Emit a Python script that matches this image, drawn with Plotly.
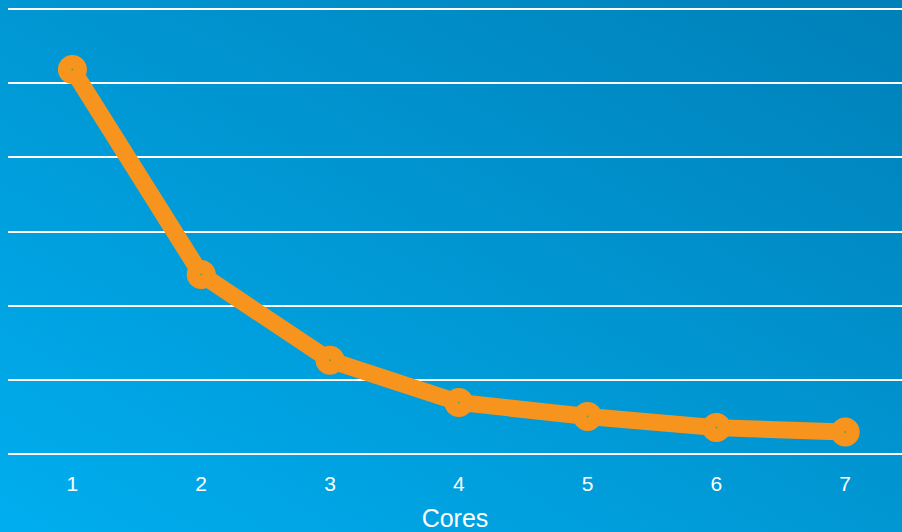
import base64
import plotly.graph_objects as go

# Run time per core count (arbitrary units; gridlines every 1 unit)
cores = [1, 2, 3, 4, 5, 6, 7]
run_time = [5.19, 2.42, 1.26, 0.69, 0.50, 0.35, 0.29]
x_tick_labels = ["1", "2", "3", "4", "5", "6", "7"]

W, H = 902, 532
M_L, M_R, M_T, M_B = 8, 0, 8, 77

ORANGE = "#F7941E"
FONT = "Liberation Sans, Arial, sans-serif"

# diagonal blue gradient for the whole canvas
svg = f"""<svg xmlns='http://www.w3.org/2000/svg' width='{W}' height='{H}' viewBox='0 0 {W} {H}' preserveAspectRatio='none'>
<defs><linearGradient id='g' x1='0' y1='1' x2='1' y2='0'>
<stop offset='0' stop-color='#00AEEF'/>
<stop offset='1' stop-color='#0080B8'/>
</linearGradient></defs>
<rect x='0' y='0' width='{W}' height='{H}' fill='url(#g)'/>
</svg>"""
bg_uri = "data:image/svg+xml;base64," + base64.b64encode(svg.encode()).decode()

pw = W - M_L - M_R
ph = H - M_T - M_B

fig = go.Figure()
fig.add_trace(go.Scatter(
    x=cores, y=run_time, mode="lines+markers",
    line=dict(color=ORANGE, width=17),
    marker=dict(color=ORANGE, size=29),
    hoverinfo="skip", showlegend=False,
))
fig.add_trace(go.Scatter(
    x=cores, y=run_time, mode="markers",
    marker=dict(color="#4CAF50", size=2),
    hoverinfo="skip", showlegend=False,
))

px_per_unit = 128.8
x_min = 0.5
x_max = x_min + pw / px_per_unit

fig.update_layout(
    width=W, height=H,
    margin=dict(l=M_L, r=M_R, t=M_T, b=M_B, pad=0),
    paper_bgcolor="#0098D4",
    plot_bgcolor="rgba(0,0,0,0)",
    font=dict(family=FONT, color="white"),
    images=[dict(
        source=bg_uri, xref="paper", yref="paper",
        x=-M_L / pw, y=1 + M_T / ph,
        sizex=W / pw, sizey=H / ph,
        xanchor="left", yanchor="top",
        sizing="stretch", layer="below",
    )],
    xaxis=dict(
        range=[x_min, x_max],
        tickvals=cores, ticktext=x_tick_labels,
        showgrid=False, zeroline=False, showline=False,
        ticks="", tickfont=dict(size=21, color="white", family=FONT),
        ticklabelstandoff=14,
        title=dict(text="Cores", font=dict(size=25, color="white", family=FONT), standoff=17),
    ),
    yaxis=dict(
        range=[-0.02, 6.02], dtick=1, tick0=0,
        showgrid=True, gridcolor="white", gridwidth=2,
        zeroline=False, showline=False, showticklabels=False, ticks="",
    ),
)

fig.write_html("out.html")
